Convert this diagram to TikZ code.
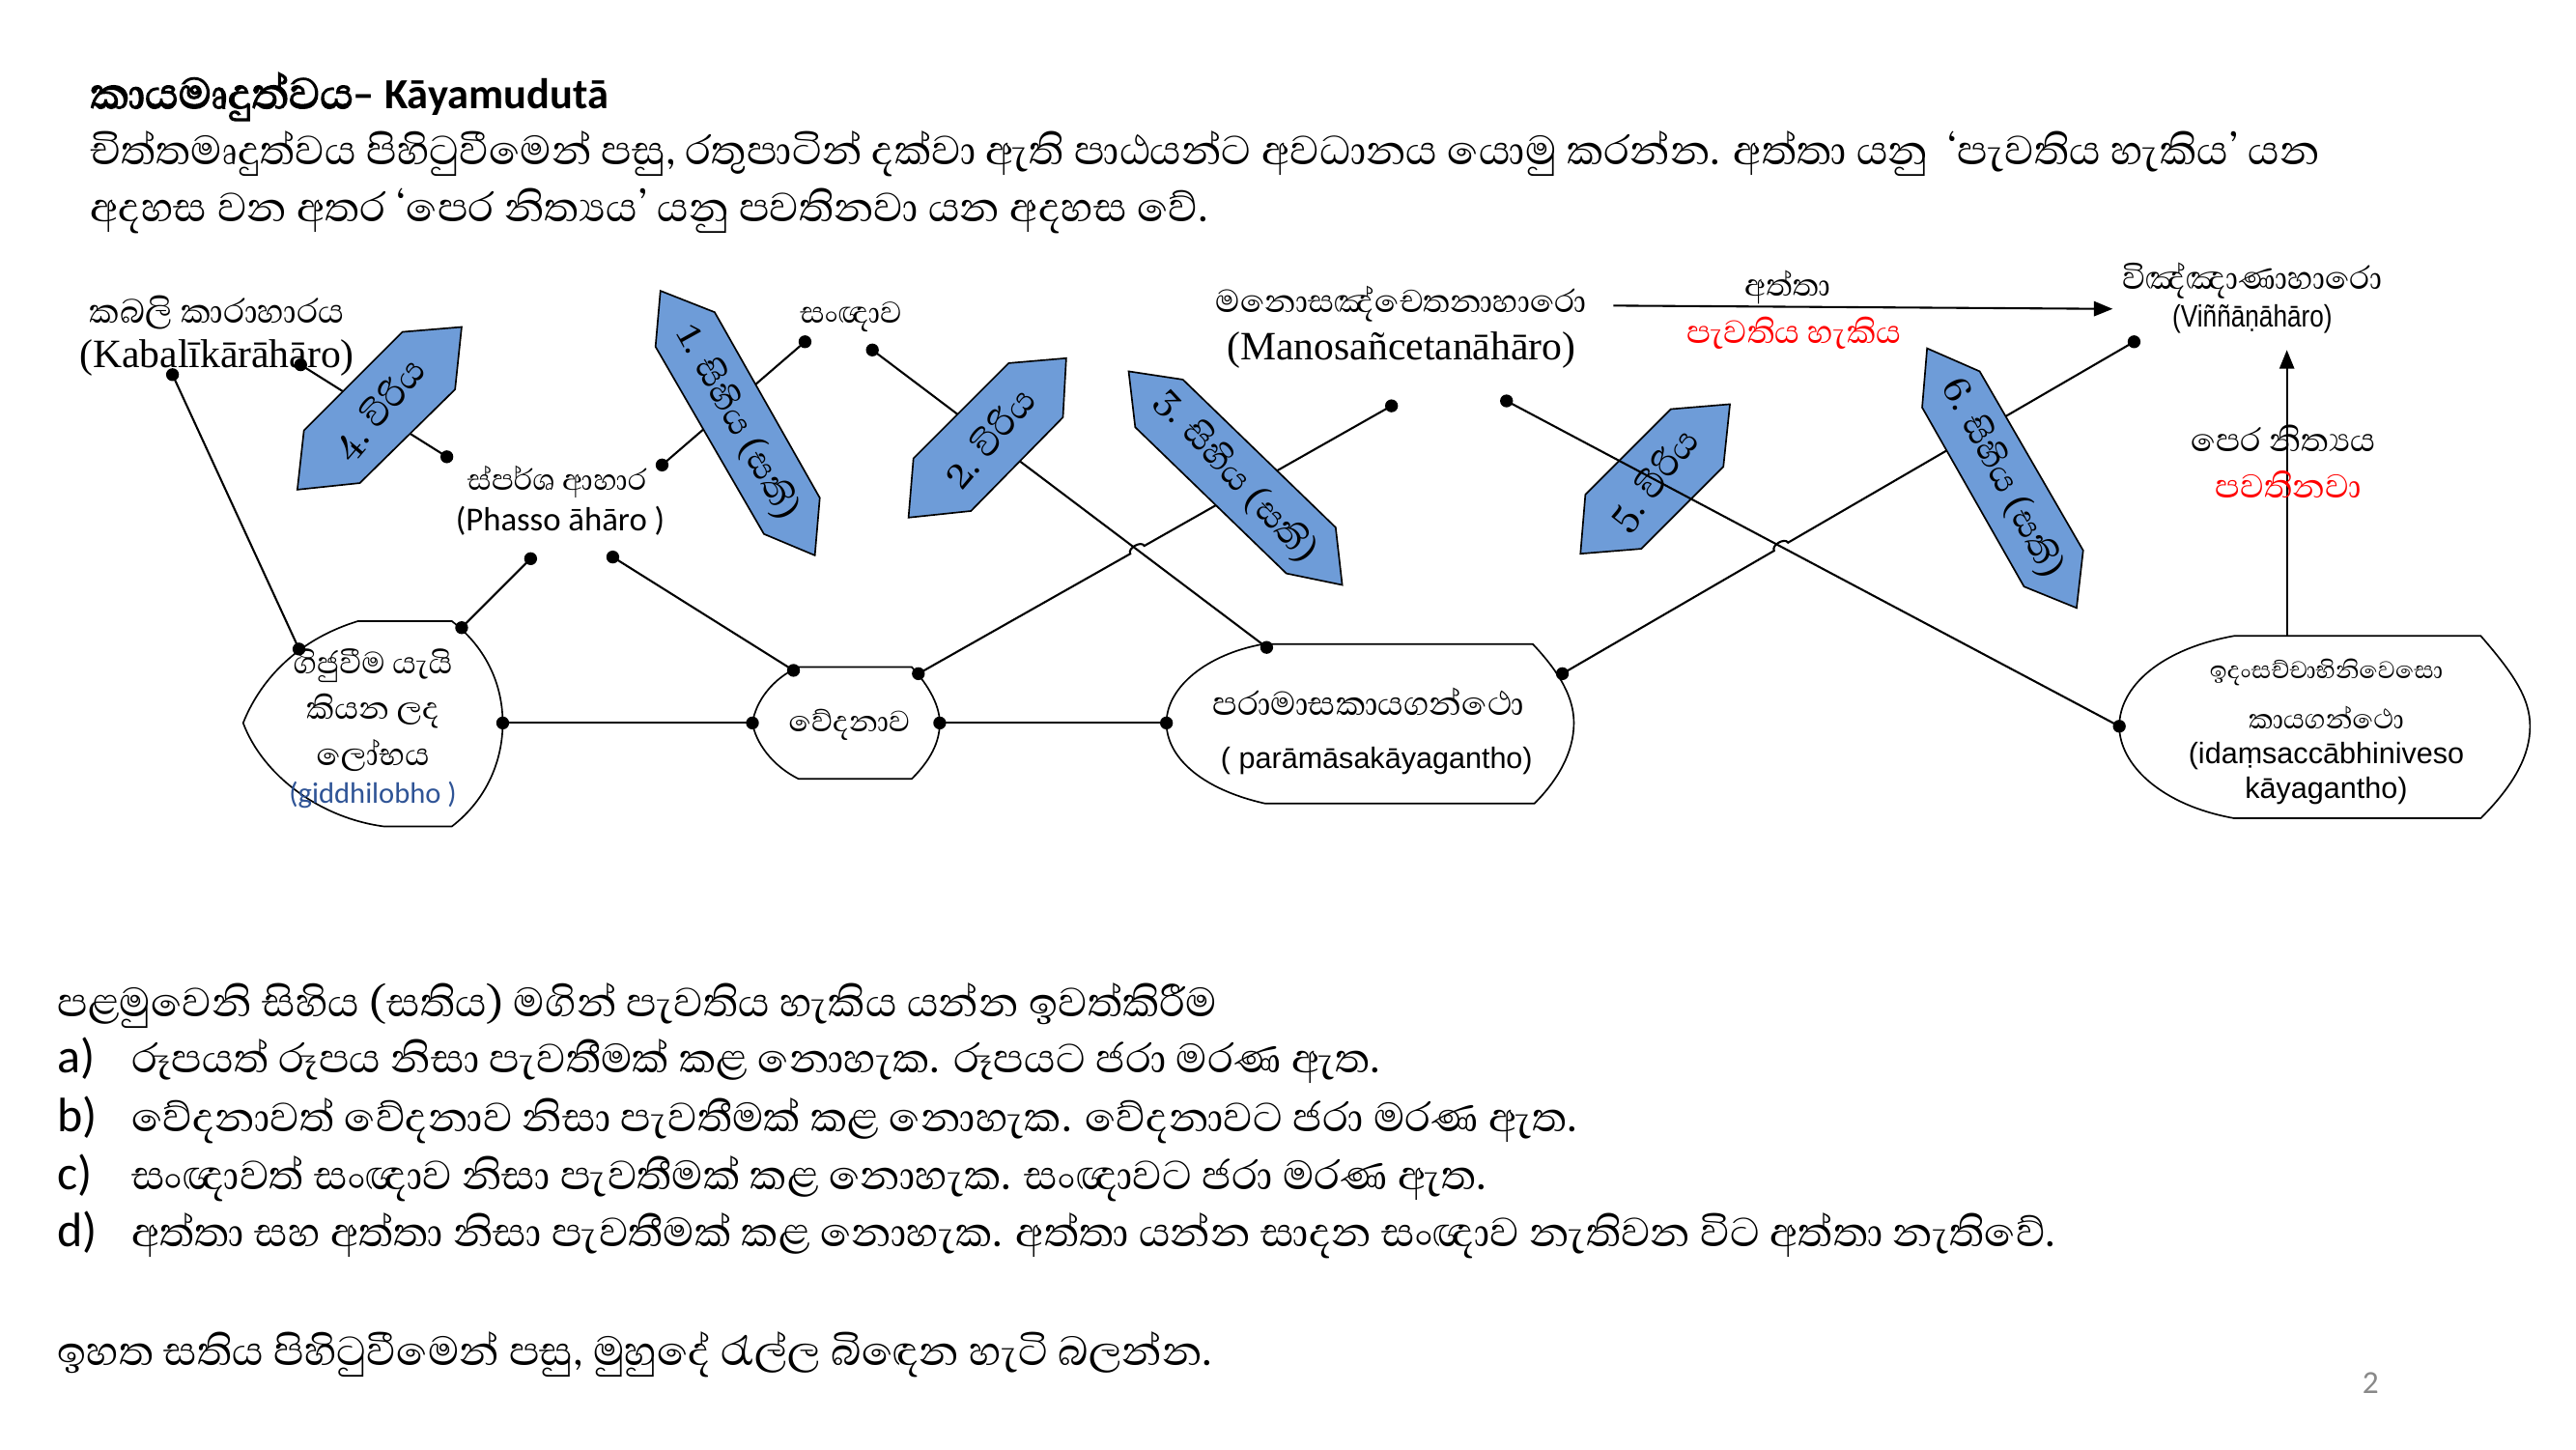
\documentclass[tikz,border=0pt]{standalone}
\usepackage{fontspec}
\usetikzlibrary{arrows.meta,calc}
\newfontfamily\sinhf[Script=Sinhala]{Abhaya Libre}
\newfontfamily\sinhbold[Script=Sinhala,FakeBold=2.5]{Abhaya Libre}
\newfontfamily\calf{Carlito}
\newfontfamily\tnrf{Liberation Serif}
\newfontfamily\arif{Liberation Sans}
\definecolor{hexblue}{RGB}{110,156,216}
\definecolor{redtxt}{RGB}{255,0,0}
\definecolor{darkblue}{RGB}{47,84,150}
\definecolor{pagegray}{RGB}{137,137,137}
\tikzset{
  txt/.style={inner sep=0pt, outer sep=0pt},
  bodytxt/.style={txt, anchor=base west, font=\sinhf\fontsize{19.4}{22}\selectfont},
  listlbl/.style={txt, anchor=base west, font=\calf\fontsize{18}{22}\selectfont},
  sinlab/.style={txt, font=\sinhf\fontsize{#1}{18}\selectfont},
  sinlab/.default=14,
  timeslab/.style={txt, font=\tnrf\fontsize{15}{18}\selectfont},
  callab/.style={txt, font=\calf\fontsize{#1}{16}\selectfont},
  arilab/.style={txt, font=\arif\fontsize{11}{13}\selectfont},
  hexshape/.style={fill=hexblue, draw=black, line width=0.6pt, line join=miter},
  dispshape/.style={draw=black, line width=0.6pt, fill=white},
  conn/.style={draw=black, line width=0.75pt},
  arrowconn/.style={conn, -{Triangle[length=7pt,width=5.5pt]}},
  dotfill/.style={fill=black},
  hextxt/.style={txt, font=\sinhf\fontsize{#1}{18}\selectfont},
  hextxt/.default=16.5,
}
\begin{document}
\begin{tikzpicture}[x=0.61224pt,y=-0.61224pt]
\useasboundingbox[fill=white] (0,0) rectangle (1568,881.9);

% ---------- heading ----------
\node[txt, anchor=base west] (title) at (55,66)
  {{\sinhbold\fontsize{20.5}{22}\selectfont කායමෘදුත්වය}{\calf\bfseries\fontsize{16}{20}\selectfont – Kāyamudutā}};
\node[bodytxt] (intro1) at (55,100) {චිත්තමෘදුත්වය පිහිටුවීමෙන් පසු, රතුපාටින් දක්වා ඇති පාඨයන්ට අවධානය යොමු කරන්න. අත්තා යනු \ ‘පැවතිය හැකිය’ යන};
\node[bodytxt] (intro2) at (55,135) {අදහස වන අතර ‘පෙර නිත්^^^^200dයය’ යනු පවතිනවා යන අදහස වේ.};

% ---------- coordinates of connector ends ----------
\coordinate (kab1) at (105,228);
\coordinate (kab2) at (183,222);
\coordinate (ph1) at (272,278);
\coordinate (ph2) at (403,283);
\coordinate (ph3) at (323,340);
\coordinate (ph4) at (373,339);
\coordinate (sa1) at (490,208);
\coordinate (sa2) at (531,213);
\coordinate (g1) at (182,395);
\coordinate (g2) at (281,382);
\coordinate (g3) at (306,440);
\coordinate (v1) at (483,408);
\coordinate (v2) at (559,410);
\coordinate (v3) at (458,440);
\coordinate (v4) at (572,440);
\coordinate (m1) at (847,247);
\coordinate (m2) at (917,244);
\coordinate (p1) at (771,394);
\coordinate (p2) at (951,410);
\coordinate (p3) at (710,440);
\coordinate (i1) at (1290,442);
\coordinate (vn) at (1299,208);
\coordinate (itop) at (1392,387);
\coordinate (ivtip) at (1392,213);
\coordinate (a1s) at (982,186);
\coordinate (a1e) at (1286,188);

% ---------- outlined shapes ----------
\path[dispshape] (218,378) -- (275,378) .. controls (297,395) and (306,418) .. (306,440)
  .. controls (306,462) and (297,486) .. (275,503) -- (234,503)
  .. controls (195,498) and (160,472) .. (148,440)
  .. controls (160,410) and (185,388) .. (218,378) -- cycle;
\path[dispshape] (486,406) -- (555,406) .. controls (566,418) and (572,430) .. (572,440)
  .. controls (572,452) and (566,463) .. (555,474) -- (486,474)
  .. controls (470,466) and (460,452) .. (458,440)
  .. controls (460,427) and (470,413) .. (486,406) -- cycle;
\path[dispshape] (769,392) -- (933,392) .. controls (950,410) and (958,425) .. (958,440)
  .. controls (958,458) and (948,475) .. (934,489) -- (770,489)
  .. controls (730,480) and (710,460) .. (710,440)
  .. controls (710,418) and (735,398) .. (769,392) -- cycle;
\path[dispshape] (1360,387) -- (1510,387) .. controls (1530,410) and (1540,425) .. (1540,442)
  .. controls (1540,460) and (1530,478) .. (1510,498) -- (1360,498)
  .. controls (1315,490) and (1290,465) .. (1290,442)
  .. controls (1290,418) and (1315,395) .. (1360,387) -- cycle;

% ---------- connectors (behind blue shapes) ----------
\coordinate (xa) at (intersection of sa2--p1 and v2--m1);
\coordinate (xb) at (intersection of m2--i1 and p2--vn);
\draw[conn] (kab1) -- (g1);
\draw[conn] (kab2) -- (ph1);
\draw[conn] (ph2) -- (sa1);
\draw[conn] (ph3) -- (g2);
\draw[conn] (ph4) -- (v1);
\draw[conn] (g3) -- (v3);
\draw[conn] (sa2) -- (p1);
\draw[conn] (v2) -- ($(xa)!3pt!(v2)$) to[bend left=90] ($(xa)!3pt!(m1)$) -- (m1);
\draw[conn] (v4) -- (p3);
\draw[conn] (p2) -- ($(xb)!3pt!(p2)$) to[bend left=90] ($(xb)!3pt!(vn)$) -- (vn);

% ---------- blue hexagons ----------
\path[hexshape] (245,202) -- (281,199) -- (277,237) -- (219,294) -- (181,298) -- (185,262) -- cycle;
\node[hextxt=17, rotate=50] (hex4) at (231,249) {4. විරිය};
\path[hexshape] (402,177) -- (435,190) -- (499,303) -- (496,338) -- (465,325) -- (399,211) -- cycle;
\node[hextxt, rotate=-61] (hex1) at (449,257) {1. සිහිය (සති)};
\path[hexshape] (614,221) -- (649,218) -- (647,254) -- (591,311) -- (553,315) -- (556,279) -- cycle;
\node[hextxt=17, rotate=50] (hex2) at (602,266) {2. විරිය};
\path[hexshape] (687,226) -- (720,231) -- (813,321) -- (817,356) -- (783,349) -- (691,260) -- cycle;
\node[hextxt, rotate=-47] (hex3) at (752,290) {3. සිහිය (සති)};
\path[hexshape] (1017,249) -- (1053,246) -- (1049,284) -- (999,334) -- (962,337) -- (965,301) -- cycle;
\node[hextxt=17, rotate=52] (hex5) at (1007,292) {5. විරිය};
\path[hexshape] (1173,212) -- (1205,226) -- (1268,335) -- (1264,370) -- (1232,357) -- (1170,248) -- cycle;
\node[hextxt, rotate=-62] (hex6) at (1219,291) {6. සිහිය (සති)};

% ---------- connectors in front ----------
\draw[conn] (m2) -- (i1);
\draw[arrowconn] (a1s) -- (a1e);
\draw[arrowconn] (itop) -- (ivtip);

% ---------- dots ----------
\foreach \d in {kab1,kab2,ph1,ph2,ph3,ph4,sa1,sa2,g1,g2,g3,v1,v2,v3,v4,m1,m2,p1,p2,p3,i1,vn}
  \fill[dotfill] (\d) circle[radius=2.4pt];

% ---------- labels ----------
\node[sinlab=16] (kabsi) at (132,190) {කබලි කාරාහාරය};
\node[timeslab] (kablat) at (132,218) {(Kabalīkārāhāro)};
\node[sinlab=14.3] (sanna) at (518,193) {සංඥාව};
\node[sinlab=14] (phsi) at (339,293) {ස්පර්ශ ආහාර};
\node[callab=12.5] (phlat) at (341,317) {(Phasso āhāro )};
\node[sinlab=15.2] (manosi) at (853,185) {මනොසඤ්චෙතනාහාරො};
\node[timeslab] (manolat) at (853,213) {(Manosañcetanāhāro)};
\node[sinlab=14.7] (atta) at (1088,175) {අත්තා};
\node[sinlab=15.4, text=redtxt] (pavat) at (1092,203) {පැවතිය හැකිය};
\node[sinlab=15.3] (vinsi) at (1371,171) {විඤ්ඤාණාහාරො};
\node[txt, font=\arif\fontsize{11.5}{13}\selectfont] (vinlat) at (1371,194) {\scalebox{0.82}[1]{(Viññāṇāhāro)}};
\node[sinlab=15.5] (pera) at (1390,267) {පෙර නිත්^^^^200dයය};
\node[sinlab=15.8, text=redtxt] (pavatina) at (1393,295) {පවතිනවා};

\node[sinlab=14.6] (gid1) at (227,405) {ගිජුවීම යැයි};
\node[sinlab=14.8] (gid2) at (227,433) {කියන ලද};
\node[sinlab=15] (gid3) at (227,460) {ලෝභය};
\node[callab=11, text=darkblue] (gid4) at (227,484) {(giddhilobho )};
\node[sinlab=14] (vedana) at (517,441) {වේදනාව};
\node[sinlab=15.8] (para1) at (833,427) {පරාමාසකායගන්ථො};
\node[arilab] (para2) at (838,463) {( parāmāsakāyagantho)};
\node[sinlab=11.5] (ida1) at (1416,409) {ඉදංසච්චාභිනිවෙසො};
\node[sinlab=13] (ida2) at (1416,437) {කායගන්ථො};
\node[arilab] (ida3) at (1416,460) {(idaṃsaccābhiniveso};
\node[arilab] (ida4) at (1416,481) {kāyagantho)};

% ---------- lower text ----------
\node[bodytxt] (low0) at (35,619) {පළමුවෙනි සිහිය (සතිය) මගින් පැවතිය හැකිය යන්න ඉවත්කිරීම};
\node[listlbl] (lbla) at (35,653) {a)};
\node[bodytxt] (lowa) at (80,653) {රූපයත් රූපය නිසා පැවතීමක් කළ නොහැක. රූපයට ජරා මරණ ඇත.};
\node[listlbl] (lblb) at (35,689) {b)};
\node[bodytxt] (lowb) at (80,689) {වේදනාවත් වේදනාව නිසා පැවතීමක් කළ නොහැක. වේදනාවට ජරා මරණ ඇත.};
\node[listlbl] (lblc) at (35,724) {c)};
\node[bodytxt] (lowc) at (80,724) {සංඥාවත් සංඥාව නිසා පැවතීමක් කළ නොහැක. සංඥාවට ජරා මරණ ඇත.};
\node[listlbl] (lbld) at (35,759) {d)};
\node[bodytxt] (lowd) at (80,759) {අත්තා සහ අත්තා නිසා පැවතීමක් කළ නොහැක. අත්තා යන්න සාදන සංඥාව නැතිවන විට අත්තා නැතිවේ.};
\node[bodytxt] (lowe) at (35,831) {ඉහත සතිය පිහිටුවීමෙන් පසු, මුහුදේ රැල්ල බිඳෙන හැටි බලන්න.};
\node[callab=12, text=pagegray] (pagenum) at (1443,842) {2};
\end{tikzpicture}
\end{document}
